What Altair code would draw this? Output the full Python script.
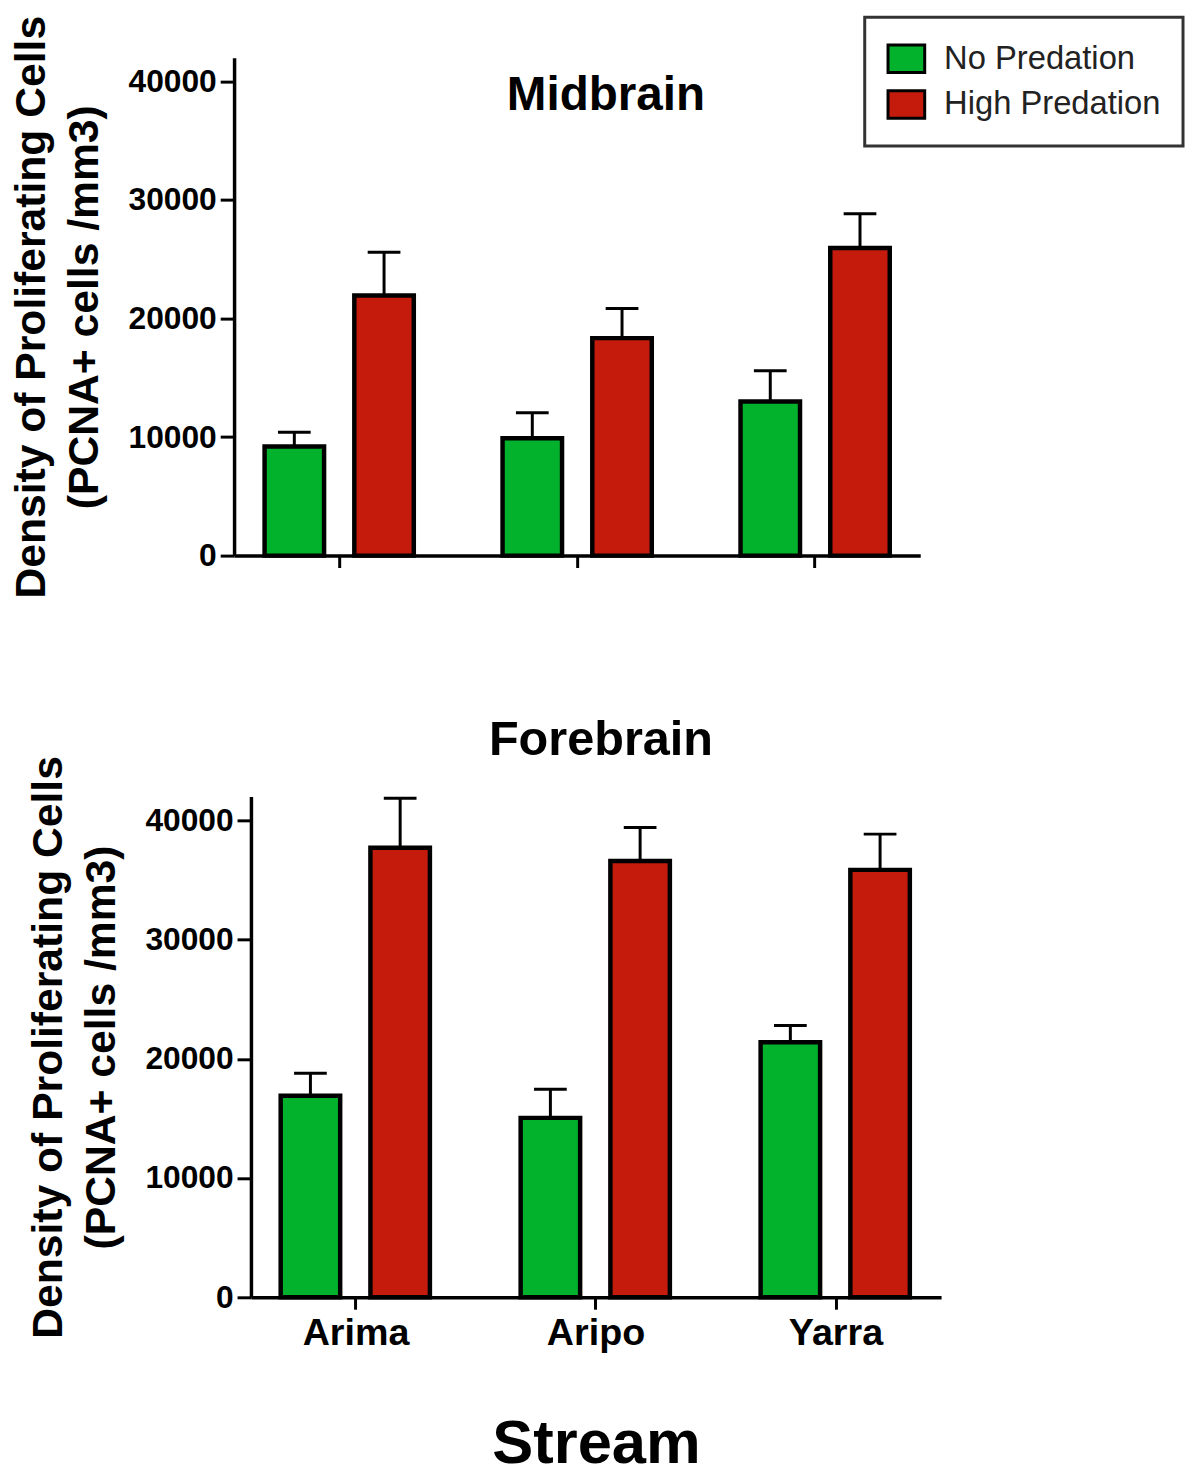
import altair as alt
import pandas as pd

streams = ["Arima", "Aripo", "Yarra"]
groups = ["No Predation", "High Predation"]
colors = ["#02B22C", "#C41B0D"]

# Midbrain
mid_no = [9200, 9900, 13000]
mid_no_err = [1200, 2150, 2600]
mid_high = [21950, 18350, 25950]
mid_high_err = [3650, 2500, 2900]

# Forebrain
fore_no = [16900, 15050, 21400]
fore_no_err = [1900, 2400, 1400]
fore_high = [37700, 36600, 35850]
fore_high_err = [4150, 2800, 3000]

y_ticks = [0, 10000, 20000, 30000, 40000]
y_max = 42000
y_title = ["Density of Proliferating Cells", "(PCNA+ cells /mm3)"]


def make_df(no, no_err, high, high_err):
    rows = []
    for i, s in enumerate(streams):
        rows.append({"Stream": s, "Group": groups[0], "Value": no[i], "Upper": no[i] + no_err[i]})
        rows.append({"Stream": s, "Group": groups[1], "Value": high[i], "Upper": high[i] + high_err[i]})
    return pd.DataFrame(rows)


def panel(df, width, height, pad_outer, x_axis, legend, title):
    x = alt.X("Stream:N", sort=streams,
              scale=alt.Scale(paddingInner=0.25, paddingOuter=pad_outer), axis=x_axis)
    xo = alt.XOffset("Group:N", sort=groups,
                     scale=alt.Scale(paddingInner=0.337, paddingOuter=0.163))
    y_axis = alt.Axis(values=y_ticks, format="d", grid=False, domainColor="black",
                      domainWidth=3.5, tickColor="black", tickWidth=3, tickSize=14,
                      labelFontSize=32, labelFontWeight="bold", labelColor="black",
                      labelPadding=4, labelFlush=False, title=y_title, titleFontSize=43,
                      titleFontWeight="bold", titleColor="black", titlePadding=22,
                      titleLineHeight=53)
    y = alt.Y("Value:Q", scale=alt.Scale(domain=[0, y_max], nice=False), axis=y_axis)
    color = alt.Color("Group:N", sort=groups,
                      scale=alt.Scale(domain=groups, range=colors), legend=legend)
    base = alt.Chart(df)
    bars = base.mark_bar(stroke="black", strokeWidth=4.5, opacity=1).encode(
        x=x, xOffset=xo, y=y, color=color)
    err = base.mark_rule(color="black", strokeWidth=3).encode(
        x=x, xOffset=xo, y="Value:Q", y2="Upper:Q")
    cap = base.mark_tick(color="black", thickness=3, size=33, opacity=1).encode(
        x=x, xOffset=xo, y="Upper:Q")
    return alt.layer(err, cap, bars).properties(width=width, height=height, title=title)


def spacer(w):
    return alt.Chart(pd.DataFrame({"s": [0]})).mark_point(
        opacity=0, size=1, strokeWidth=0).properties(width=w, height=20)


mid_df = make_df(mid_no, mid_no_err, mid_high, mid_high_err)
fore_df = make_df(fore_no, fore_no_err, fore_high, fore_high_err)

top_x_axis = alt.Axis(labels=False, title=None, domainColor="black", domainWidth=3.5,
                      tickColor="black", tickWidth=3, tickSize=12)
bottom_x_axis = alt.Axis(title="Stream", domainColor="black", domainWidth=3.5,
                         tickColor="black", tickWidth=3, tickSize=12, labelFontSize=38,
                         labelFontWeight="bold", labelColor="black", labelPadding=6,
                         labelAngle=0, titleFontSize=62, titleFontWeight="bold",
                         titleColor="black", titlePadding=62)

legend = alt.Legend(title=None, orient="none", legendX=636, legendY=-41, direction="vertical",
                    symbolType="M-1,-0.75H1V0.75H-1Z", symbolSize=1369,
                    symbolStrokeColor="black", symbolStrokeWidth=3, symbolOpacity=1,
                    labelFontSize=33, labelColor="#222222", labelOffset=18, rowPadding=6,
                    labelLimit=400, padding=22, strokeColor="#333333", fillColor="white")

top_title = alt.TitleParams("Midbrain", fontSize=48, fontWeight="bold", color="black",
                            frame="group", anchor="middle", dx=29, dy=109)
bottom_title = alt.TitleParams("Forebrain", fontSize=49, fontWeight="bold", color="black",
                               frame="group", anchor="middle", dx=5, offset=-9)

top = panel(mid_df, 692, 502, 0.0667, top_x_axis, legend, top_title)
bottom = panel(fore_df, 696, 505, 0.063, bottom_x_axis, None, bottom_title)

top_row = alt.hconcat(spacer(1), top, spacing=0).resolve_legend(color="independent")
bottom_row = alt.hconcat(spacer(18), bottom, spacing=0).resolve_legend(color="independent")

chart = alt.vconcat(
    top_row,
    bottom_row,
    spacing=117,
).resolve_legend(color="independent").properties(
    padding={"left": 1, "top": 0, "right": 0, "bottom": 0}
).configure(font="Liberation Sans").configure_view(
    stroke="transparent"
).configure_legend(strokeWidth=3)

chart.save("out.html", embed_options={"renderer": "svg", "actions": False})
